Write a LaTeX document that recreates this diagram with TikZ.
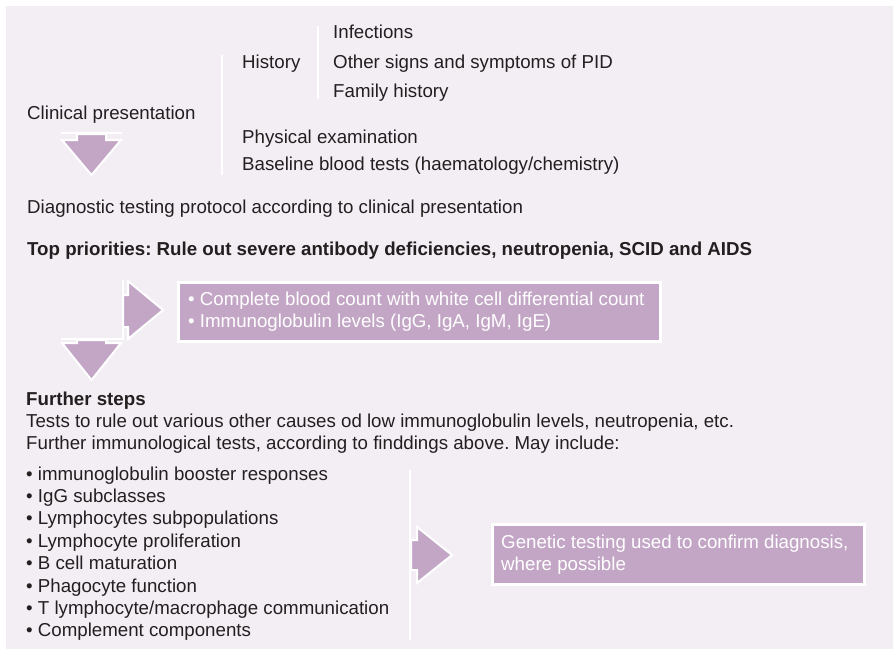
\documentclass[tikz,border=0pt]{standalone}
\usepackage{fontspec}
\setmainfont{Liberation Sans}
\frenchspacing
\definecolor{panelbg}{HTML}{F3EEF4}
\definecolor{boxpurple}{HTML}{C3A6C6}
\definecolor{txt}{HTML}{231F20}
\tikzset{
  lbl/.style={anchor=base west, inner sep=0pt, text=txt, font=\fontsize{18.7}{22.3}\selectfont},
  boldlbl/.style={lbl, font=\fontsize{18.7}{22.3}\selectfont\bfseries},
  boxtxt/.style={anchor=base west, inner sep=0pt, text=white, font=\fontsize{18.7}{22.3}\selectfont},
  rule/.style={draw=white, line width=2pt},
  arrowshape/.style={fill=boxpurple, draw=white, line width=2pt, line join=miter},
  purplebox/.style={fill=boxpurple, draw=white, line width=2.5pt}
}
\begin{document}
\begin{tikzpicture}[x=1pt,y=-1pt]
\useasboundingbox (0,0) rectangle (893,649);
\fill[white] (0,0) rectangle (893,649);
\fill[panelbg] (6,6) rectangle (893,649);

% separator rules
\draw[rule] (222,55) -- (222,175);
\draw[rule] (318,26) -- (318,99);

% first down arrow
\draw[arrowshape] (77,134) -- (106,134) -- (106,140) -- (121,140) -- (91.5,175) -- (62,140) -- (77,140) -- cycle;
\draw[rule] (61,133) -- (122,133);

% right arrow 1 with L-shaped rule
\draw[arrowshape] (123,295) -- (128,295) -- (128,281) -- (163,310) -- (128,339) -- (128,327) -- (123,327) -- cycle;

% second down arrow
\draw[arrowshape] (77,340) -- (106,340) -- (106,343) -- (121,343) -- (91.5,380) -- (62,343) -- (77,343) -- cycle;
\draw[rule] (123,280) -- (123,339) -- (61,339);

% right arrow 2
\draw[arrowshape] (411,540) -- (417,540) -- (417,527) -- (452,555) -- (417,583) -- (417,570) -- (411,570) -- cycle;
\draw[rule] (410,470) -- (410,640);

% boxes
\node[purplebox, anchor=north west, minimum width=482pt, minimum height=59pt, inner sep=0pt] (box1) at (177,281) {};
\node[purplebox, anchor=north west, minimum width=372pt, minimum height=60pt, inner sep=0pt] (box2) at (491,523) {};

% texts
\node[lbl] (inf) at (333,38) {Infections};
\node[lbl] (hist) at (242,68) {History};
\node[lbl] (other) at (333,68) {Other signs and symptoms of PID};
\node[lbl] (fam) at (333,97) {Family history};
\node[lbl] (clin) at (27,119) {Clinical presentation};
\node[lbl] (phys) at (242,143) {Physical examination};
\node[lbl] (base) at (242,170) {Baseline blood tests (haematology/chemistry)};
\node[lbl] (diag) at (27,213) {Diagnostic testing protocol according to clinical presentation};
\node[boldlbl] (top) at (27,255) {Top priorities: Rule out severe antibody deficiencies, neutropenia, SCID and AIDS};

\node[boxtxt] (b1a) at (188,305) {• Complete blood count with white cell differential count};
\node[boxtxt] (b1b) at (188,327) {• Immunoglobulin levels (IgG, IgA, IgM, IgE)};

\node[boldlbl] (fs) at (26,405.5) {Further steps};
\node[lbl] (t1) at (26,427.7) {Tests to rule out various other causes od low immunoglobulin levels, neutropenia, etc.};
\node[lbl] (t2) at (26,449.5) {Further immunological tests, according to finddings above. May include:};

\node[lbl] (l1) at (26,480) {• immunoglobulin booster responses};
\node[lbl] (l2) at (26,502.4) {• IgG subclasses};
\node[lbl] (l3) at (26,524.8) {• Lymphocytes subpopulations};
\node[lbl] (l4) at (26,547.2) {• Lymphocyte proliferation};
\node[lbl] (l5) at (26,569.6) {• B cell maturation};
\node[lbl] (l6) at (26,592) {• Phagocyte function};
\node[lbl] (l7) at (26,614.4) {• T lymphocyte/macrophage communication};
\node[lbl] (l8) at (26,636.8) {• Complement components};

\node[boxtxt] (g1) at (501,548) {Genetic testing used to confirm diagnosis,};
\node[boxtxt] (g2) at (501,570) {where possible};
\end{tikzpicture}
\end{document}
